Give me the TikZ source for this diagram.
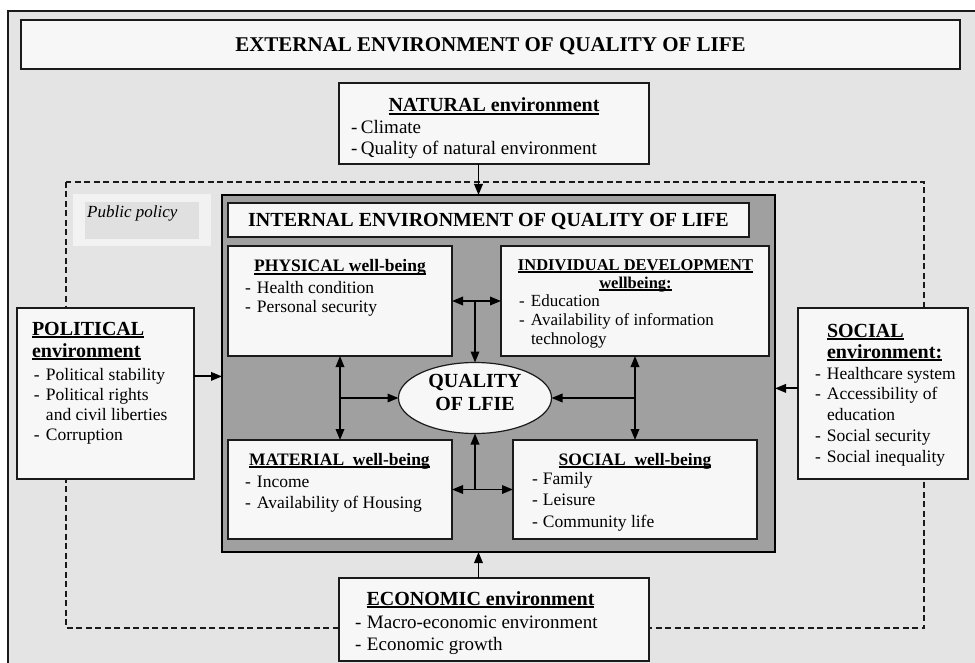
\documentclass[tikz,border=0pt]{standalone}
\usepackage{fontspec}
\setmainfont{Liberation Serif}
\usetikzlibrary{arrows.meta,calc,shapes.geometric}
\definecolor{bggray}{HTML}{E4E4E4}
\definecolor{boxfill}{HTML}{F7F7F7}
\definecolor{intgray}{HTML}{A0A0A0}
\definecolor{ppout}{HTML}{F2F2F2}
\definecolor{ppin}{HTML}{E0E0E0}
\definecolor{edge}{HTML}{1A1A1A}
\newsavebox\hulbox
\newcommand\hul[1]{\sbox\hulbox{#1}\leavevmode\rlap{\rule[-2.6pt]{\wd\hulbox}{1.4pt}}\usebox\hulbox}
\newcommand\itm[2][12pt]{\makebox[#1][l]{-}#2}
\newcommand\fs[2]{\fontsize{#1}{#2}\selectfont}
\newcommand\boxat[6][]{\node[box,minimum width={#5-#3},minimum height={#6-#4},anchor=north west,#1] (#2) at (#3,#4) {};}
\begin{document}
\begin{tikzpicture}[x=1pt,y=-1pt,
  box/.style={draw=edge, fill=boxfill, line width=1.2pt, inner sep=0, outer sep=0, rectangle},
  arr/.style={line width=1.8pt, -{Triangle[length=11pt,width=8.5pt]}},
  darr/.style={line width=1.8pt, {Triangle[length=11pt,width=8.5pt]}-{Triangle[length=11pt,width=8.5pt]}},
  txt/.style={inner sep=0, outer sep=0, align=left, anchor=north west},
  hd/.style={inner sep=0, outer sep=0, anchor=base, font=\fs{17.5}{20}\bfseries},
]
\useasboundingbox (0,0) rectangle (975,663);
\fill[white] (0,0) rectangle (975,663);
% outer frame
\draw[edge, line width=1.2pt, fill=bggray] (8,11) rectangle (1000,700);
% public policy dashed frame
\draw[edge, line width=1.2pt, dash pattern=on 6pt off 3.5pt] (66,182) rectangle (924,628);
% public policy label
\fill[ppout] (73,194) rectangle (211,246);
\fill[ppin] (85,202) rectangle (199,239);
\node[inner sep=0, anchor=base west, font=\fs{17}{19}\itshape] (pp) at (87,218) {Public policy};

% title
\boxat{ext}{21}{20}{960}{69}
\node[inner sep=0, anchor=base, font=\fs{21}{24}\bfseries] (extt) at (490.5,52) {EXTERNAL ENVIRONMENT OF QUALITY OF LIFE};

% natural
\boxat{nat}{339}{83}{649}{164}
\node[hd, font=\fs{20}{22}\bfseries] (natt) at (494,112) {\hul{NATURAL environment}};
\node[txt, font=\fs{19}{21}] (nati) at (351,134-14) {\rule{0pt}{14pt}\itm[10pt]{Climate}\\\itm[10pt]{Quality of natural environment}};

% internal environment
\node[draw=black, fill=intgray, line width=2.5pt, inner sep=0, outer sep=0, minimum width=553pt, minimum height=357pt, anchor=north west] (int) at (222,195) {};
\boxat{intt}{228}{203}{749}{237}
\node[inner sep=0, anchor=base, font=\fs{20}{22}\bfseries] (inttt) at (488.5,227) {INTERNAL ENVIRONMENT OF QUALITY OF LIFE};

% physical
\boxat{phys}{228}{246}{452}{356}
\node[hd] (physt) at (340,272) {\hul{PHYSICAL well-being}};
\node[txt, font=\fs{17.5}{19.5}] (physi) at (245,293-14) {\rule{0pt}{14pt}\itm{Health condition}\\\itm{Personal security}};

% individual
\boxat{ind}{501}{246}{769}{356}
\node[inner sep=0, anchor=north, align=center, font=\fs{16.5}{18}\bfseries] (indt) at (635.5,270-13) {\rule{0pt}{13pt}\hul{INDIVIDUAL DEVELOPMENT}\\\hul{wellbeing:}};
\node[txt, font=\fs{17}{19}] (indi) at (519,306-14) {\rule{0pt}{14pt}\itm{Education}\\\itm{Availability of information}\\\hspace*{12pt}technology};

% material
\boxat{mat}{228}{440}{452}{539}
\node[hd] (matt) at (339.5,465) {\hul{MATERIAL\ \ well-being}};
\node[txt, font=\fs{17.5}{21}] (mati) at (245,487-14) {\rule{0pt}{14pt}\itm{Income}\\\itm{Availability of Housing}};

% social well-being
\boxat{socw}{513}{440}{757}{539}
\node[hd] (socwt) at (635,465) {\hul{SOCIAL\ \ well-being}};
\node[txt, font=\fs{17.5}{21.8}] (socwi) at (532,484-14) {\rule{0pt}{14pt}\itm[11pt]{Family}\\\itm[11pt]{Leisure}\\\itm[11pt]{Community life}};

% quality of life
\node[ellipse, draw=edge, fill=boxfill, line width=1.2pt, minimum width=153pt, minimum height=71pt, inner sep=0, outer sep=0] (q) at (475,398) {};
\node[inner sep=0, align=center, font=\fs{20}{23}\bfseries] (qt) at ([yshift=5.5pt]q.center) {QUALITY\\OF LFIE};

% political
\boxat{pol}{17}{308}{194}{479}
\node[txt, font=\fs{20}{22}\bfseries] (polt) at (32,335-14) {\rule{0pt}{14pt}\hul{POLITICAL}\\\hul{environment}};
\node[txt, font=\fs{17.5}{20.3}] (poli) at (34,380-14) {\rule{0pt}{14pt}\itm{Political stability}\\\itm{Political rights}\\\hspace*{12pt}and civil liberties\\\itm{Corruption}};

% social environment
\boxat{socenv}{798}{308}{968}{479}
\node[txt, font=\fs{20}{21}\bfseries] (socet) at (827,337-14) {\rule{0pt}{14pt}\hul{SOCIAL}\\\hul{environment:}};
\node[txt, font=\fs{17.5}{20.75}] (socei) at (815,379-14) {\rule{0pt}{14pt}\itm{Healthcare system}\\\itm{Accessibility of}\\\hspace*{12pt}education\\\itm{Social security}\\\itm{Social inequality}};

% economic
\boxat{eco}{339}{578}{649}{661}
\node[hd, font=\fs{20}{22}\bfseries] (ecot) at (480.5,605) {\hul{ECONOMIC environment}};
\node[txt, font=\fs{19}{22}] (ecoi) at (355,628-14) {\rule{0pt}{14pt}\itm{Macro-economic environment}\\\itm{Economic growth}};

% connectors
\coordinate (na) at ($(nat.south west)!0.45!(nat.south east)$);
\draw[arr] (na) -- (na |- int.north);
\coordinate (ea) at ($(eco.north west)!0.45!(eco.north east)$);
\draw[arr] (ea) -- (ea |- int.south);
\coordinate (pa) at ($(pol.north east)!0.4!(pol.south east)$);
\draw[arr] (pa) -- (pa -| int.west);
\coordinate (sa) at ($(socenv.north west)!0.47!(socenv.south west)$);
\draw[arr] (sa) -- (sa -| int.east);

\draw[darr] (phys.east) -- (ind.west);
\draw[arr] (q.north |- phys.east) -- (q.north);
\draw[darr] (mat.east) -- (socw.west);
\draw[arr] (q.south |- mat.east) -- (q.south);
\draw[darr] (phys.south) -- (mat.north);
\draw[arr] (phys.south |- q.west) -- (q.west);
\draw[darr] (ind.south) -- (socw.north);
\draw[arr] (ind.south |- q.east) -- (q.east);
\end{tikzpicture}
\end{document}
